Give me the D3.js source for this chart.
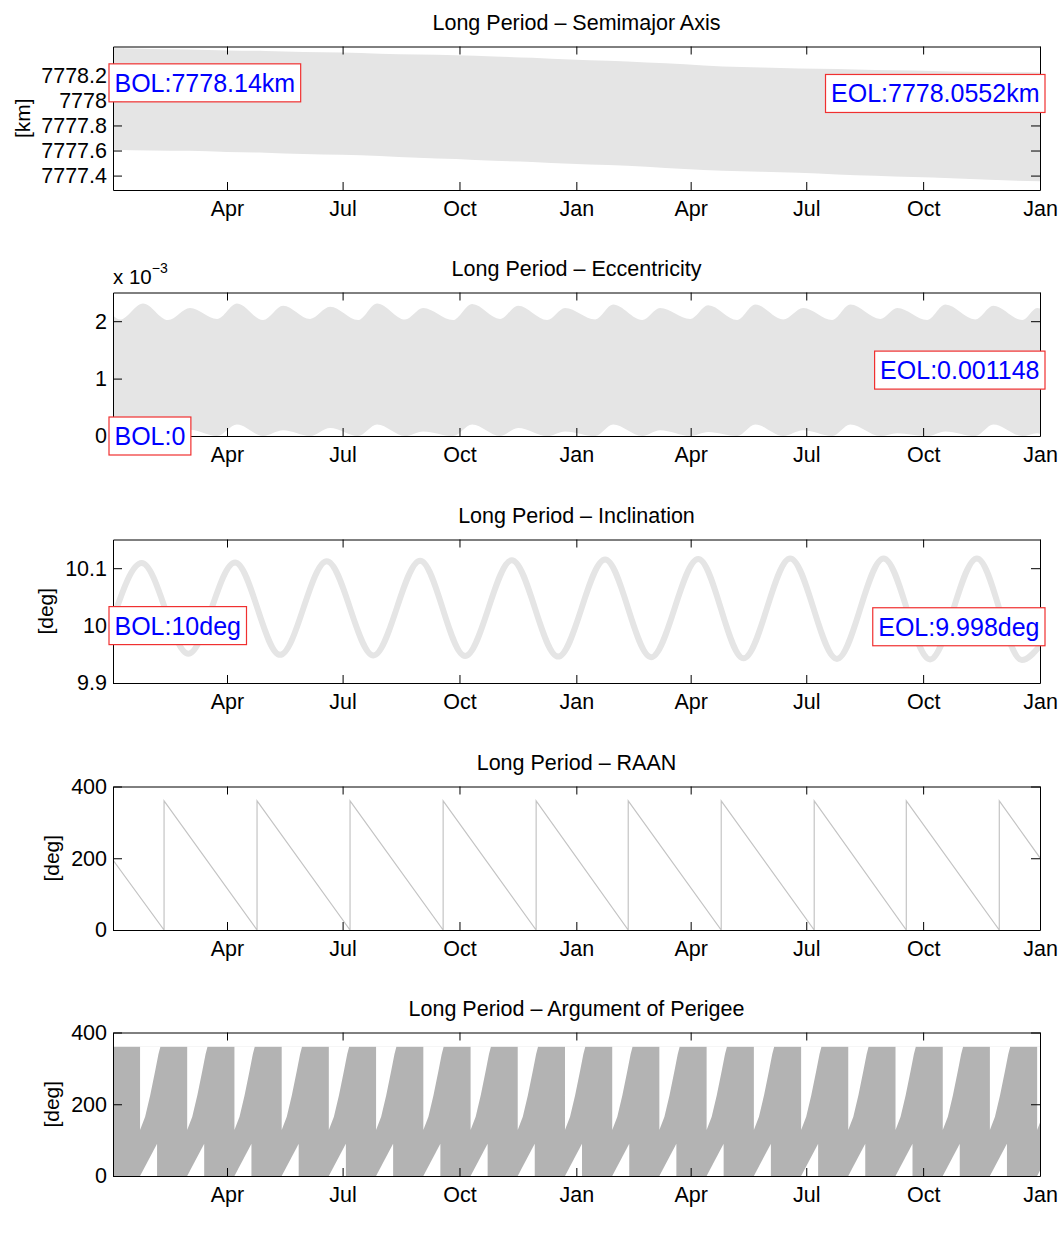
<!DOCTYPE html>
<html>
<head>
<meta charset="utf-8">
<script src="https://cdn.jsdelivr.net/npm/d3@7"></script>
<style>
  body { margin: 0; background: #fff; }
  svg text { font-family: "Liberation Sans", Arial, Helvetica, sans-serif; }
</style>
</head>
<body>
<svg id="chart" width="1060" height="1252"></svg>
<script>
"use strict";

/*-- Time axis: day 0 is the start of the propagation ------------------------*/
const startMs = Date.UTC(2013, 0, 1, 6);
const endDay = 729.75;
const xTickDates = ['2013-04-01', '2013-07-01', '2013-10-01', '2014-01-01',
                    '2014-04-01', '2014-07-01', '2014-10-01', '2015-01-01'];

/*-- Semimajor axis envelope [km] --------------------------------------------*/
const smaDay  = [0, 30, 60, 90, 120, 150, 180, 210, 240, 270, 300, 330, 360,
                 390, 420, 450, 480, 510, 540, 570, 600, 630, 660, 690, 729.75];
const smaHigh = [7778.418, 7778.410, 7778.406, 7778.398, 7778.394, 7778.386, 7778.382,
                 7778.372, 7778.366, 7778.360, 7778.350, 7778.340, 7778.326, 7778.316,
                 7778.302, 7778.288, 7778.270, 7778.262, 7778.254, 7778.250, 7778.242,
                 7778.238, 7778.230, 7778.226, 7778.222];
const smaLow  = [7777.606, 7777.600, 7777.598, 7777.588, 7777.582, 7777.572, 7777.566,
                 7777.556, 7777.542, 7777.532, 7777.518, 7777.508, 7777.494, 7777.484,
                 7777.470, 7777.452, 7777.438, 7777.430, 7777.422, 7777.408, 7777.398,
                 7777.388, 7777.378, 7777.366, 7777.354];
const smaTicks = [7777.4, 7777.6, 7777.8, 7778, 7778.2];

/*-- Eccentricity envelope [x 1e-3] ------------------------------------------*/
const eccDay  = [0, 5.5, 23.6, 43.3, 60.6, 81.9, 97.6, 118.1, 133.9, 155.1, 170.9,
                 192.9, 207.9, 229.9, 244.1, 267.7, 282.7, 304.7, 318.9, 341.8, 355.9,
                 379.6, 393.7, 416.6, 430.7, 454.4, 468.5, 491.4, 505.6, 527.6, 543.3,
                 566.2, 580.4, 604.0, 617.4, 641.0, 655.2, 678.8, 693.0, 715.8, 727.6, 729.75];
const eccHigh = [2.10, 2.03, 2.31, 2.02, 2.23, 2.04, 2.31, 2.02, 2.27, 2.04, 2.25,
                 2.02, 2.31, 2.03, 2.23, 2.02, 2.30, 2.04, 2.27, 2.02, 2.23,
                 2.03, 2.29, 2.02, 2.23, 2.04, 2.28, 2.02, 2.29, 2.03, 2.23,
                 2.02, 2.29, 2.04, 2.23, 2.02, 2.29, 2.03, 2.27, 2.02, 2.23, 2.22];
const eccLow  = [0, 0, 0.05, 0, 0.11, 0, 0.20, 0, 0.10, 0, 0.14,
                 0, 0.20, 0, 0.08, 0, 0.20, 0, 0.14, 0, 0.08,
                 0, 0.20, 0, 0.10, 0, 0.07, 0, 0.20, 0, 0.10,
                 0, 0.20, 0, 0.05, 0, 0.08, 0, 0.20, 0, 0.05, 0.04];
const eccTicks = [0, 1, 2];

/*-- Inclination [deg] -------------------------------------------------------*/
const incDay = [0, 22.6, 59.3, 96.1, 131.5, 168.3, 205.0, 241.8, 277.2, 314.0, 350.4,
                387.4, 423.6, 460.7, 496.4, 533.1, 569.9, 606.6, 643.2, 680.1, 715.5, 729.75];
const incDeg = [10.012, 10.109, 9.951, 10.110, 9.949, 10.112, 9.948, 10.113, 9.947, 10.114, 9.946,
                10.115, 9.945, 10.116, 9.943, 10.117, 9.942, 10.117, 9.941, 10.117, 9.940, 9.965];
const incTicks = [9.9, 10, 10.1];

/*-- RAAN [deg] --------------------------------------------------------------*/
const raanDay = [0, 40.2, 40.2, 113.4, 113.4, 186.6, 186.6, 259.9, 259.9, 333.1, 333.1,
                 405.6, 405.6, 478.8, 478.8, 552.0, 552.0, 624.5, 624.5, 697.7, 697.7, 729.75];
const raanDeg = [195, 0, 360, 0, 360, 0, 360, 0, 360, 0, 360,
                 0, 360, 0, 360, 0, 360, 0, 360, 0, 360, 201];
const degTicks = [0, 200, 400];

/*-- Argument of perigee: filled 0..360 with a gap every cycle ---------------*/
const aopDay = [0, 729.75];
const aopCycleStart = [21.3, 58.4, 95.6, 132.8, 169.9, 207.1, 244.3, 281.5, 318.6, 355.8,
                       393.0, 430.1, 467.3, 504.5, 541.7, 578.8, 616.0, 653.2, 690.3, 727.5];
const aopGapTopDay = [0, 4, 8, 12, 14.5, 16];
const aopGapTopDeg = [128, 165, 225, 295, 340, 360];
const aopGapBottomDay = [0, 13.4, 13.4];
const aopGapBottomDeg = [0, 90, 0];

/*-- Annotations -------------------------------------------------------------*/
const bolText = ['BOL:7778.14km', 'BOL:0', 'BOL:10deg'];
const bolValue = [7778.14, 0, 10];
const eolText = ['EOL:7778.0552km', 'EOL:0.001148', 'EOL:9.998deg'];
const eolValue = [7778.0552, 1.148, 9.998];

/*----------------------------------------------------------------------------*/
const plotLeft = 113, plotRight = 1040, plotHeight = 143.5;
const panelTops = [46.5, 292.5, 539.5, 786.5, 1032.5];

const dayToDate = function(d){ return new Date(startMs + d * 864e5); };
const parseDay = d3.utcParse('%Y-%m-%d');

const x = d3.scaleUtc()
            .domain([dayToDate(0), dayToDate(endDay)])
            .range([plotLeft, plotRight]);

const svg = d3.select('#chart');

const makePanel = function(i, domain, title){
    const g = svg.append('g')
                 .attr('transform', 'translate(0,' + panelTops[i] + ')');
    g.append('clipPath')
     .attr('id', 'clip' + i)
     .append('rect')
     .attr('x', plotLeft)
     .attr('y', 0)
     .attr('width', plotRight - plotLeft)
     .attr('height', plotHeight);
    g.append('text')
     .attr('x', (plotLeft + plotRight) / 2)
     .attr('y', -17)
     .attr('text-anchor', 'middle')
     .attr('font-size', 21.5)
     .text(title);
    const y = d3.scaleLinear().domain(domain).range([plotHeight, 0]);
    const plot = g.append('g').attr('clip-path', 'url(#clip' + i + ')');
    return {g: g, y: y, plot: plot};
};

const drawAxes = function(p, ticks, fmt, yLabel, yLabelX){
    const g = p.g;
    const style = function(sel){
        sel.attr('font-family', null).attr('font-size', null);
        sel.select('.domain').attr('stroke', '#000');
        sel.selectAll('.tick line').attr('stroke', '#000');
        sel.selectAll('text').attr('font-size', 21.5).attr('fill', '#000');
    };
    const xt = xTickDates.map(parseDay);
    g.append('g')
     .attr('transform', 'translate(0,' + plotHeight + ')')
     .call(d3.axisBottom(x).tickValues(xt).tickFormat(d3.utcFormat('%b'))
             .tickSizeInner(-8).tickSizeOuter(0).tickPadding(11))
     .call(style);
    g.append('g')
     .call(d3.axisTop(x).tickValues(xt).tickFormat('')
             .tickSizeInner(-8).tickSizeOuter(0))
     .call(style);
    g.append('g')
     .attr('transform', 'translate(' + plotLeft + ',0)')
     .call(d3.axisLeft(p.y).tickValues(ticks).tickFormat(fmt)
             .tickSizeInner(-9).tickSizeOuter(0).tickPadding(6))
     .call(style);
    g.append('g')
     .attr('transform', 'translate(' + plotRight + ',0)')
     .call(d3.axisRight(p.y).tickValues(ticks).tickFormat('')
             .tickSizeInner(-9).tickSizeOuter(0))
     .call(style);
    if (yLabel){
        g.append('text')
         .attr('transform', 'translate(' + yLabelX + ',' + plotHeight / 2 + ') rotate(-90)')
         .attr('text-anchor', 'middle')
         .attr('dominant-baseline', 'central')
         .attr('font-size', 21)
         .text(yLabel);
    }
};

const addBox = function(p, label, value, side){
    const t = p.g.append('text')
                 .attr('font-size', 25)
                 .attr('fill', '#0000ff')
                 .attr('dominant-baseline', 'central')
                 .attr('y', p.y(value))
                 .text(label);
    const w = t.node().getBBox().width;
    const boxW = w + 11;
    const left = (side === 'left') ? plotLeft - 4 : plotRight + 5 - boxW;
    t.attr('x', left + 5.5);
    p.g.insert('rect', function(){ return t.node(); })
       .attr('x', left)
       .attr('y', p.y(value) - 19)
       .attr('width', boxW)
       .attr('height', 38)
       .attr('fill', '#fff')
       .attr('stroke', '#f03030')
       .attr('stroke-width', 1.2);
};

const oneDecimal = function(d){ return String(+d.toFixed(1)); };

/*-- Panel 1: semimajor axis -------------------------------------------------*/
const p1 = makePanel(0, [7777.285, 7778.43], 'Long Period \u2013 Semimajor Axis');
p1.plot.append('path')
  .datum(smaDay.map(function(d, i){ return {d: d, hi: smaHigh[i], lo: smaLow[i]}; }))
  .attr('fill', '#e5e5e5')
  .attr('d', d3.area()
               .x(function(d){ return x(dayToDate(d.d)); })
               .y0(function(d){ return p1.y(d.lo); })
               .y1(function(d){ return p1.y(d.hi); })
               .curve(d3.curveMonotoneX));
drawAxes(p1, smaTicks, oneDecimal, '[km]', 22);

/*-- Panel 2: eccentricity ---------------------------------------------------*/
const p2 = makePanel(1, [0, 2.5], 'Long Period \u2013 Eccentricity');
p2.plot.append('path')
  .datum(eccDay.map(function(d, i){ return {d: d, hi: eccHigh[i], lo: eccLow[i]}; }))
  .attr('fill', '#e5e5e5')
  .attr('d', d3.area()
               .x(function(d){ return x(dayToDate(d.d)); })
               .y0(function(d){ return p2.y(d.lo); })
               .y1(function(d){ return p2.y(d.hi); })
               .curve(d3.curveMonotoneX));
drawAxes(p2, eccTicks, d3.format('d'), null, 0);
p2.g.append('text')
  .attr('x', plotLeft)
  .attr('y', -9)
  .attr('font-size', 20.5)
  .text('x 10')
  .append('tspan')
  .attr('dy', -11)
  .attr('font-size', 14)
  .text('\u22123');

/*-- Panel 3: inclination ----------------------------------------------------*/
const p3 = makePanel(2, [9.9, 10.15], 'Long Period \u2013 Inclination');
p3.plot.append('path')
  .datum(incDay.map(function(d, i){ return {d: d, v: incDeg[i]}; }))
  .attr('fill', 'none')
  .attr('stroke', '#e5e5e5')
  .attr('stroke-width', 6)
  .attr('d', d3.line()
               .x(function(d){ return x(dayToDate(d.d)); })
               .y(function(d){ return p3.y(d.v); })
               .curve(d3.curveMonotoneX));
drawAxes(p3, incTicks, oneDecimal, '[deg]', 45);

/*-- Panel 4: RAAN -----------------------------------------------------------*/
const p4 = makePanel(3, [0, 400], 'Long Period \u2013 RAAN');
p4.plot.append('path')
  .datum(raanDay.map(function(d, i){ return {d: d, v: raanDeg[i]}; }))
  .attr('fill', 'none')
  .attr('stroke', '#c4c4c4')
  .attr('stroke-width', 1.2)
  .attr('d', d3.line()
               .x(function(d){ return x(dayToDate(d.d)); })
               .y(function(d){ return p4.y(d.v); }));
drawAxes(p4, degTicks, d3.format('d'), '[deg]', 51);

/*-- Panel 5: argument of perigee --------------------------------------------*/
const p5 = makePanel(4, [0, 400], 'Long Period \u2013 Argument of Perigee');
p5.plot.append('path')
  .datum(aopDay)
  .attr('fill', '#b3b3b3')
  .attr('d', d3.area()
               .x(function(d){ return x(dayToDate(d)); })
               .y0(p5.y(0))
               .y1(p5.y(360)));
const gapLine = d3.line()
                  .x(function(d){ return x(dayToDate(d[0])); })
                  .y(function(d){ return p5.y(d[1]); });
p5.plot.selectAll('path.gap-top')
  .data(aopCycleStart)
  .enter()
  .append('path')
  .attr('class', 'gap-top')
  .attr('fill', '#fff')
  .attr('d', function(s){
      const pts = [[s, 361]].concat(aopGapTopDay.map(function(o, i){
          return [s + o, aopGapTopDeg[i]];
      }));
      pts.push([s + aopGapTopDay[aopGapTopDay.length - 1], 361]);
      return gapLine(pts) + 'Z';
  });
p5.plot.selectAll('path.gap-bottom')
  .data(aopCycleStart)
  .enter()
  .append('path')
  .attr('class', 'gap-bottom')
  .attr('fill', '#fff')
  .attr('d', function(s){
      return gapLine(aopGapBottomDay.map(function(o, i){
          return [s + o, aopGapBottomDeg[i]];
      })) + 'Z';
  });
drawAxes(p5, degTicks, d3.format('d'), '[deg]', 51);

/*-- BOL / EOL labels --------------------------------------------------------*/
[p1, p2, p3].forEach(function(p, i){
    addBox(p, bolText[i], bolValue[i], 'left');
    addBox(p, eolText[i], eolValue[i], 'right');
});
</script>
</body>
</html>
